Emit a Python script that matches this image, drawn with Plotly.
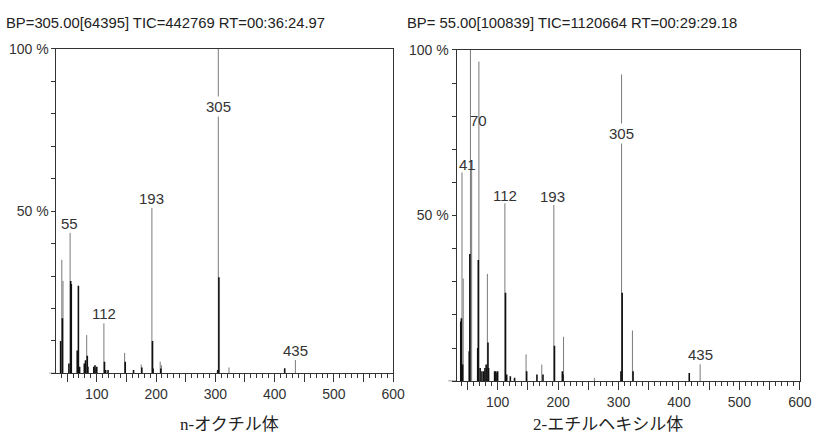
import plotly.graph_objects as go

# ---------------- data (m/z, relative intensity %) ----------------
# n-octyl ester (left spectrum)
oct_grey_mz = [41, 43, 55, 83, 112, 147, 175, 193, 207, 209, 305, 323, 435]
oct_grey_int = [35, 28.5, 43.3, 11.8, 15.4, 6.3, 2.7, 51, 3.6, 2.5, 100, 1.8, 4.1]
oct_black_mz = [39, 42, 53, 56, 57, 67, 69, 71, 79, 81, 84, 85, 95, 97, 99, 100,
                113, 115, 119, 148, 162, 176, 194, 195, 208, 304, 306, 417]
oct_black_int = [10, 17, 3, 28.5, 27.5, 7, 27, 2, 3, 4, 5.4, 2, 2, 2.5, 1.5, 2,
                 3.6, 1, 1, 3.6, 1, 1.8, 10, 1.5, 1.5, 1, 29.6, 1.6]
oct_label_text = ["55", "112", "193", "305", "435"]
oct_label_mz = [54.2, 112.3, 192.5, 305.8, 435.8]
oct_label_int = [46.2, 18.4, 53.8, 82.3, 7.1]

# 2-ethylhexyl ester (right spectrum)
eh_grey_mz = [41, 43, 55, 57, 69, 83, 112, 147, 173, 193, 209, 260, 305, 323, 435]
eh_grey_int = [63, 31, 100, 64, 96.5, 32.4, 53.7, 8.1, 5, 53.2, 13.4, 1, 92.6, 15.3, 5.1]
eh_black_mz = [39, 40, 42, 53, 54, 67, 68, 71, 74, 77, 79, 81, 84, 85, 95, 97, 99, 100,
               113, 115, 121, 128, 148, 165, 175, 194, 207, 208, 304, 306, 324, 417]
eh_black_int = [18, 19, 5, 9, 38.4, 10, 36.6, 4, 3, 3, 4, 5, 11.7, 4, 3, 3, 2.5, 3,
                26.7, 2, 1.5, 1, 3, 2, 2, 10.7, 3, 2, 3, 26.7, 3, 2.5]
eh_label_text = ["41", "70", "112", "193", "305", "435"]
eh_label_mz = [49.6, 69.1, 111.5, 191.4, 305.5, 435.8]
eh_label_int = [65.3, 78.6, 56.0, 55.8, 74.8, 8.2]

header_left = "BP=305.00[64395] TIC=442769 RT=00:36:24.97"
header_right = "BP= 55.00[100839] TIC=1120664 RT=00:29:29.18"
caption_left = "n-オクチル体"
caption_right = "2-エチルヘキシル体"

x_tickvals = list(range(50, 601, 50))
x_ticktext = [str(v) if v % 100 == 0 else "" for v in x_tickvals]
y_tickvals = list(range(0, 101, 10))
y_ticktext = {50: "50 %", 100: "100 %"}

NARROW = "Liberation Sans Narrow, Arial Narrow, Liberation Sans, Arial, sans-serif"
TXT = "#333333"


def stems(mz, inten):
    xs, ys = [], []
    for m, v in zip(mz, inten):
        xs += [m, m, None]
        ys += [0, v, None]
    return xs, ys


fig = go.Figure()

for (gm, gi, bm, bi, xa, ya) in [
    (oct_grey_mz, oct_grey_int, oct_black_mz, oct_black_int, "x", "y"),
    (eh_grey_mz, eh_grey_int, eh_black_mz, eh_black_int, "x2", "y2"),
]:
    x, y = stems(gm, gi)
    fig.add_trace(go.Scatter(x=x, y=y, mode="lines", xaxis=xa, yaxis=ya,
                             line=dict(color="#7a7a7a", width=1), hoverinfo="skip"))
    x, y = stems(bm, bi)
    fig.add_trace(go.Scatter(x=x, y=y, mode="lines", xaxis=xa, yaxis=ya,
                             line=dict(color="#111111", width=1.6), hoverinfo="skip"))

annotations = []
for t, m, v in zip(oct_label_text, oct_label_mz, oct_label_int):
    annotations.append(dict(x=m, y=v, xref="x", yref="y", text=t, showarrow=False,
                            font=dict(family=NARROW, size=15, color=TXT),
                            bgcolor="white" if t == "305" else None,
                            xanchor="center", yanchor="middle"))
for t, m, v in zip(eh_label_text, eh_label_mz, eh_label_int):
    annotations.append(dict(x=m, y=v, xref="x2", yref="y2", text=t, showarrow=False,
                            font=dict(family=NARROW, size=15, color=TXT),
                            bgcolor="white" if t == "305" else None,
                            xanchor="center", yanchor="middle"))

annotations += [
    dict(x=4 / 823, y=1 - 15 / 446, xref="paper", yref="paper", text=header_left,
         showarrow=False, xanchor="left", yanchor="middle",
         font=dict(family=NARROW, size=14.8, color="#222222")),
    dict(x=411 / 823, y=1 - 15 / 446, xref="paper", yref="paper", text=header_right,
         showarrow=False, xanchor="left", yanchor="middle",
         font=dict(family=NARROW, size=14.8, color="#222222")),
    dict(x=232.5 / 823, y=1 - 424 / 446, xref="paper", yref="paper", text=caption_left,
         showarrow=False, xanchor="center", yanchor="middle",
         font=dict(family="Liberation Serif, Noto Sans CJK JP, serif", size=17, color="#222222")),
    dict(x=617 / 823, y=1 - 424 / 446, xref="paper", yref="paper", text=caption_right,
         showarrow=False, xanchor="center", yanchor="middle",
         font=dict(family="Liberation Serif, Noto Sans CJK JP, serif", size=17, color="#222222")),
]


def xaxis_cfg(domain, anchor):
    return dict(domain=domain, anchor=anchor, range=[32, 600], showgrid=False, zeroline=False,
                showline=True, linecolor="#333333", linewidth=1, mirror=True,
                tickmode="array", tickvals=x_tickvals, ticktext=x_ticktext,
                ticks="outside", ticklen=8, tickcolor="#333333", tickwidth=1,
                tickfont=dict(family=NARROW, size=14, color=TXT),
                minor=dict(tickmode="linear", tick0=0, dtick=10, ticks="outside",
                           ticklen=4, tickcolor="#333333", tickwidth=1, showgrid=False))


def yaxis_cfg(domain, anchor):
    return dict(domain=domain, anchor=anchor, range=[0, 100], showgrid=False, zeroline=False,
                showline=True, linecolor="#333333", linewidth=1, mirror=True,
                tickmode="array", tickvals=y_tickvals,
                ticktext=[y_ticktext.get(v, "") for v in y_tickvals],
                ticks="outside", ticklen=4, tickcolor="#333333", tickwidth=1,
                tickfont=dict(family=NARROW, size=14, color=TXT))


fig.update_layout(
    width=823, height=446,
    margin=dict(l=0, r=0, t=0, b=0),
    paper_bgcolor="white", plot_bgcolor="white",
    showlegend=False,
    xaxis=xaxis_cfg([57.3 / 823, 399 / 823], "y"),
    yaxis=yaxis_cfg([1 - 372 / 446, 1 - 41.7 / 446], "x"),
    xaxis2=xaxis_cfg([463.3 / 823, 811.7 / 823], "y2"),
    yaxis2=yaxis_cfg([1 - 380 / 446, 1 - 42.7 / 446], "x2"),
    annotations=annotations,
    shapes=[
        dict(type="line", xref="x domain", yref="y", x0=-0.022, x1=0, y0=0, y1=0,
             line=dict(color="#333333", width=1)),
        dict(type="line", xref="x2 domain", yref="y2", x0=-0.024, x1=0, y0=0, y1=0,
             line=dict(color="#333333", width=1)),
    ],
)

fig.write_html("out.html", config={"displayModeBar": False},
               post_script="document.body.style.margin='0px';document.body.style.overflow='hidden';")
